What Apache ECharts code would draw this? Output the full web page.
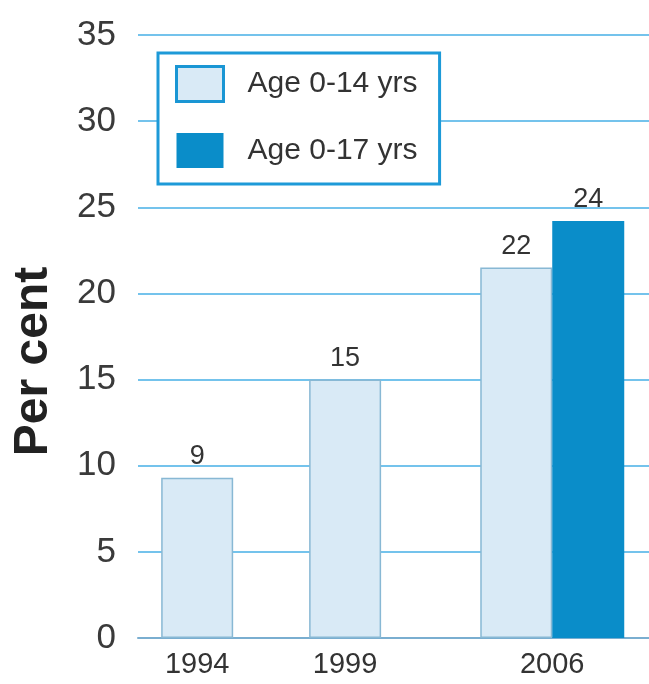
<!DOCTYPE html>
<html>
<head>
<meta charset="utf-8">
<script src="https://cdn.jsdelivr.net/npm/echarts@6/dist/echarts.min.js"></script>
<style>
  html, body { margin: 0; padding: 0; background: #ffffff; }
  #chart { width: 649px; height: 684px; }
</style>
</head>
<body>
<div id="chart"></div>
<script>
// ---- Data ----
var years = [1994, 1999, 2006];
var age0to14 = [9.3, 15, 21.5];
var age0to17 = [null, null, 24.2];
var yTicks = [0, 5, 10, 15, 20, 25, 30, 35];
var seriesNames = ['Age 0-14 yrs', 'Age 0-17 yrs'];
var yAxisTitle = 'Per cent';

// ---- Build series ----
var singleLight = [], pairLight = [], pairDark = [];
years.forEach(function (yr, i) {
  if (age0to17[i] == null) {
    singleLight.push([yr, age0to14[i]]);
  } else {
    pairLight.push([yr, age0to14[i]]);
    pairDark.push([yr, age0to17[i]]);
  }
});

var FONT = 'Liberation Sans, Arial, Helvetica, sans-serif';
var lightStyle = { color: '#d9eaf6', borderColor: '#88b8d4', borderWidth: 1.5 };
var darkStyle = { color: '#0a8dc9' };
var valueLabel = {
  show: true, position: 'top', distance: 8,
  fontFamily: FONT, fontSize: 27, color: '#333',
  formatter: function (p) { return String(Math.round(p.value[1])); }
};

var chart = echarts.init(document.getElementById('chart'), null, { renderer: 'canvas' });
chart.setOption({
  animation: false,
  backgroundColor: '#ffffff',
  textStyle: { fontFamily: FONT },
  grid: { left: 138, right: 0, top: 35, bottom: 46, containLabel: false },
  legend: {
    orient: 'vertical',
    left: 158, top: 53,
    padding: [12, 22, 16, 17],
    itemWidth: 47, itemHeight: 35, itemGap: 30,
    backgroundColor: '#ffffff',
    borderColor: '#1d9ad8', borderWidth: 3, borderRadius: 0,
    icon: 'rect',
    textStyle: { fontFamily: FONT, fontSize: 30, color: '#333', padding: [0, 0, 0, 19] },
    data: [
      { name: seriesNames[0], itemStyle: { color: '#d9eaf6', borderColor: '#1a96d4', borderWidth: 3 } },
      { name: seriesNames[1], itemStyle: { color: '#0a8dc9', borderWidth: 0 } }
    ]
  },
  xAxis: [
    {
      type: 'value', min: 1992, max: 2009.27,
      axisLine: { show: true, onZero: false, lineStyle: { color: '#7aaed0', width: 2 } },
      axisTick: { show: false },
      splitLine: { show: false },
      axisLabel: {
        customValues: years,
        formatter: function (v) { return String(v); },
        fontFamily: FONT, fontSize: 29, color: '#333', margin: 12
      }
    },
    { type: 'value', min: 1992, max: 2009.27, show: false }
  ],
  yAxis: {
    type: 'value', min: yTicks[0], max: yTicks[yTicks.length - 1], interval: 5,
    axisLine: { show: false }, axisTick: { show: false },
    splitLine: { lineStyle: { color: '#74c3ec', width: 2 } },
    axisLabel: { fontFamily: FONT, fontSize: 35, color: '#3a3a3a', margin: 22 },
    name: yAxisTitle, nameLocation: 'middle', nameGap: 80,
    nameTextStyle: { fontFamily: FONT, fontSize: 48, fontWeight: 'bold', color: '#222', padding: [0, 50, 0, 0] }
  },
  series: [
    { name: seriesNames[0], type: 'bar', xAxisIndex: 0, barWidth: 72, data: singleLight,
      itemStyle: lightStyle, label: valueLabel },
    { name: seriesNames[0], type: 'bar', xAxisIndex: 1, barWidth: 72, barGap: '0%', data: pairLight,
      itemStyle: lightStyle, label: valueLabel },
    { name: seriesNames[1], type: 'bar', xAxisIndex: 1, barWidth: 72, barGap: '0%', data: pairDark,
      itemStyle: darkStyle, label: valueLabel }
  ]
});
</script>
</body>
</html>
